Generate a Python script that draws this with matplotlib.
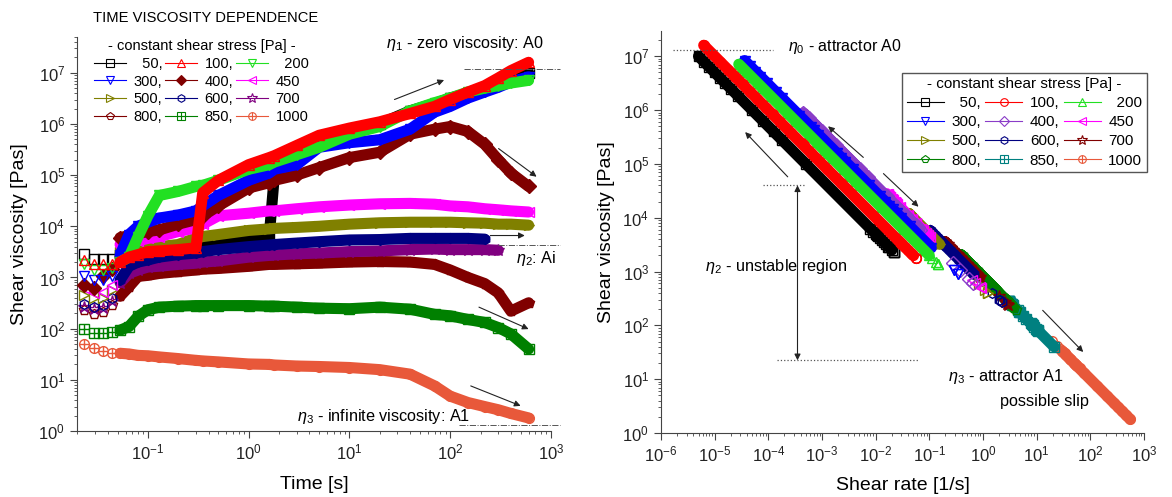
import numpy as np
import matplotlib
matplotlib.use("Agg")
import matplotlib.pyplot as plt
from matplotlib.lines import Line2D
from matplotlib.legend_handler import HandlerTuple
from matplotlib.ticker import LogLocator, NullFormatter

plt.rcParams['font.family'] = ['Liberation Sans', 'DejaVu Sans']
plt.rcParams['mathtext.fontset'] = 'custom'
plt.rcParams['mathtext.rm'] = 'Liberation Sans'
plt.rcParams['mathtext.it'] = 'Liberation Sans:italic'
plt.rcParams['mathtext.bf'] = 'Liberation Sans:bold'

nan = np.nan

# time axis shared by all creep runs [s]
time_s = [0.023, 0.029, 0.036, 0.044, 0.053, 0.065, 0.08, 0.1, 0.13, 0.2, 0.3, 0.35,
          0.5, 1, 1.6, 1.8, 3, 5, 10, 20, 40, 70, 100, 150, 220, 300, 400, 600]

# applied shear stress [Pa]
stress_pa = [50, 100, 200, 300, 400, 450, 500, 600, 700, 800, 850, 1000]

# shear viscosity [Pa s] read per stress level
eta_50 = [2900, 2300, 2300, 2300, 2500, 2800, 3200, 3500, 3800, 4200, 4600, 4800,
          5000, 5500, 6300, 1.0e5, 2.8e5, 4.0e5, 6.3e5, 1.0e6, 1.8e6, 2.5e6, 3.2e6,
          4.0e6, 5.0e6, 6.3e6, 7.9e6, 1.0e7]
eta_100 = [2200, 1800, 1800, 1800, 2000, 2500, 2800, 3200, 3300, 3500, 3800, 4.5e4,
           7.9e4, 1.6e5, 2.2e5, 2.4e5, 3.8e5, 6.0e5, 8.3e5, 1.1e6, 1.6e6, 2.2e6, 3.0e6,
           4.2e6, 5.6e6, 7.9e6, 1.1e7, 1.6e7]
eta_200 = [1800, 1400, 1400, 1500, 2000, 2500, 6300, 1.6e4, 4.0e4, 4.8e4, 6.0e4, 6.3e4,
           7.9e4, 1.3e5, 1.6e5, 1.8e5, 2.5e5, 3.5e5, 6.3e5, 8.9e5, 1.8e6, 2.6e6, 3.2e6,
           4.2e6, 5.0e6, 5.6e6, 6.3e6, 7.1e6]
eta_300 = [1050, 890, 890, 1050, 2750, 6900, 1.0e4, 1.2e4, 1.45e4, 1.66e4, 2.0e4, 2.5e4,
           4.0e4, 7.9e4, 1.1e5, 1.3e5, 1.6e5, 3.5e5, 4.3e5, 4.9e5, 7.9e5, 1.7e6, 2.2e6,
           3.2e6, 4.2e6, 5.2e6, 6.6e6, 8.3e6]
eta_400 = [720, 620, 1050, 1450, 6000, 6600, 7200, 7900, 8500, 1.1e4, 1.35e4, 1.6e4,
           2.5e4, 5.6e4, 7.1e4, 7.9e4, 1.0e5, 1.4e5, 2.2e5, 2.8e5, 6.3e5, 7.9e5, 8.9e5,
           7.1e5, 4.0e5, 2.0e5, 1.1e5, 6.0e4]
eta_450 = [620, 490, 520, 710, 4400, 4800, 5200, 5800, 6300, 7900, 9300, 1.1e4,
           1.6e4, 1.8e4, 2.0e4, 2.0e4, 2.2e4, 2.4e4, 2.6e4, 2.75e4, 2.8e4, 2.7e4, 2.5e4,
           2.4e4, 2.2e4, 2.1e4, 2.0e4, 1.9e4]
eta_500 = [460, 400, 400, 580, 3200, 3500, 3600, 3800, 4000, 4400, 5900, 6300,
           6900, 8300, 8900, 9100, 9500, 1.0e4, 1.1e4, 1.17e4, 1.2e4, 1.2e4, 1.2e4,
           1.17e4, 1.15e4, 1.1e4, 1.1e4, 1.05e4]
eta_600 = [300, 270, 290, 400, 890, 1660, 2000, 2200, 2500, 2800, 3000, 3200,
           3500, 4000, 4300, 4400, 4700, 5000, 5400, 5500, 5800, 5800, 5800,
           5800, 5600, nan, nan, nan]
eta_700 = [270, 240, 250, 350, 790, 1200, 1400, 1600, 1660, 1800, 1900, 2000,
           2100, 2500, 2700, 2750, 2900, 3000, 3200, 3300, 3500, 3600, 3500,
           3500, 3500, 3400, nan, nan]
eta_800 = [230, 190, 210, 290, 430, 660, 1050, 1100, 1200, 1300, 1400, 1450,
           1500, 1650, 1800, 1800, 1850, 1900, 2000, 2050, 2000, 1800, 1400,
           1000, 760, 500, 220, 320]
eta_850 = [100, 81, 83, 87, 93, 110, 174, 234, 263, 275, 282, 282,
           282, 282, 275, 275, 263, 251, 245, 263, 240, 190, 178,
           151, 132, 105, 79, 40]
eta_1000 = [51, 41, 36, 34, 33, 32, 30, 29.5, 28, 26, 24, 23.4,
            22.4, 20.4, 20, 19.5, 18.6, 18.2, 17.4, 15.8, 12.9, 7.6, 4.8,
            3.6, 3.0, 2.6, 2.2, 1.8]

eta_by_stress = [eta_50, eta_100, eta_200, eta_300, eta_400, eta_450,
                 eta_500, eta_600, eta_700, eta_800, eta_850, eta_1000]

legend_labels = ['  50,', '100,', '  200', '300,', '400,', '450',
                 '500,', '600,', '700', '800,', '850,', '1000']

# (marker, colour, filled, cross overlay)
left_style = [('s', '#000000', False, False), ('^', '#ff0000', False, False),
              ('v', '#22e022', False, False), ('v', '#0000ff', False, False),
              ('D', '#800000', True, False), ('<', '#ff00ff', False, False),
              ('>', '#808000', False, False), ('h', '#000080', False, False),
              ('*', '#800080', False, False), ('p', '#800000', False, False),
              ('s', '#008000', False, True), ('o', '#e8583a', False, True)]
right_style = [('s', '#000000', False, False), ('o', '#ff0000', False, False),
               ('^', '#22e022', False, False), ('v', '#0000ff', False, False),
               ('D', '#8a3cc8', False, False), ('<', '#ff00ff', False, False),
               ('>', '#808000', False, False), ('h', '#000080', False, False),
               ('*', '#800000', False, False), ('p', '#008000', False, False),
               ('s', '#008080', False, True), ('o', '#e8583a', False, True)]

draw_order = [0, 11, 10, 9, 8, 7, 6, 5, 4, 3, 2, 1]


def plot_series(ax, x, y, style, z):
    marker, color, filled, cross = style
    x = np.asarray(x, float)
    y = np.asarray(y, float)
    dense = np.asarray(time_s) >= 0.05
    ax.plot(x[dense], y[dense], '-', color=color, lw=8, zorder=z,
            solid_joinstyle='round', solid_capstyle='round')
    ms = 9 if marker == '*' else 7
    ax.plot(x, y, ls='none', marker=marker, ms=ms, mfc=color if filled else 'none',
            mec=color, mew=1, zorder=z + 0.5)
    if cross:
        ax.plot(x, y, ls='none', marker='+', ms=ms, mec=color, mew=1, zorder=z + 0.5)


def legend_handle(style):
    marker, color, filled, cross = style
    ms = 7 if marker == '*' else 5.5
    h = Line2D([], [], color=color, lw=0.8, marker=marker, ms=ms,
               mfc=color if filled else 'none', mec=color, mew=0.8)
    if cross:
        return (h, Line2D([], [], ls='none', marker='+', ms=ms, mec=color, mew=0.8))
    return h


def style_axes(ax):
    for side in ('top', 'right'):
        ax.spines[side].set_visible(False)
    for side in ('left', 'bottom'):
        ax.spines[side].set_color('#444444')
    ax.set_xscale('log')
    ax.set_yscale('log')
    for axis in (ax.xaxis, ax.yaxis):
        axis.set_major_locator(LogLocator(base=10, numticks=20))
        axis.set_minor_locator(LogLocator(base=10, subs=np.arange(2, 10), numticks=100))
        axis.set_minor_formatter(NullFormatter())
    ax.tick_params(which='major', direction='out', length=5, width=0.8,
                   color='#444444', labelsize=12, labelcolor='#222222')
    ax.tick_params(which='minor', direction='out', length=2.5, width=0.6, color='#444444')


def arrow(ax, tail, head, both=False):
    ax.annotate('', xy=head, xytext=tail,
                arrowprops=dict(arrowstyle='<|-|>' if both else '-|>', color='#222222',
                                lw=0.8, mutation_scale=9, shrinkA=0, shrinkB=0))


fig = plt.figure(figsize=(11.72, 4.97), dpi=100)
ax1 = fig.add_axes([0.0657, 0.1328, 0.4044, 0.7928])
ax2 = fig.add_axes([0.564, 0.1288, 0.412, 0.8089])

# ---- left: viscosity vs time ----
for k in draw_order:
    plot_series(ax1, time_s, eta_by_stress[k], left_style[k], 2 + draw_order.index(k))
style_axes(ax1)
ax1.set_xlim(0.0198, 1000)
ax1.set_ylim(1, 5e7)
ax1.set_xlabel('Time [s]', fontsize=14)
ax1.set_ylabel('Shear viscosity [Pas]', fontsize=14)
ax1.xaxis.set_label_coords(0.5, -0.115)
ax1.yaxis.set_label_coords(-0.103, 0.5)

col_order = [0, 3, 6, 9, 1, 4, 7, 10, 2, 5, 8, 11]
leg1 = ax1.legend([legend_handle(left_style[k]) for k in col_order],
                  [legend_labels[k] for k in col_order],
                  handler_map={tuple: HandlerTuple(ndivide=1)},
                  ncol=3, loc='upper left', bbox_to_anchor=(0.015, 1.02), frameon=False,
                  title='- constant shear stress [Pa] -', fontsize=10.5, title_fontsize=10.5,
                  handlelength=2.2, handletextpad=0.5, columnspacing=0.2,
                  labelspacing=0.25, borderpad=0.2)
fig.text(93 / 1172, 1 - 18 / 497, 'TIME VISCOSITY DEPENDENCE', fontsize=10.6, va='center')

ax1.text(23, 3.8e7, r'$\eta_1$ - zero viscosity: A0', fontsize=11.7, va='center')
ax1.text(445, 2300, r'$\eta_2$: Ai', fontsize=11.7, va='center')
ax1.text(3.0, 1.96, r'$\eta_3$ - infinite viscosity: A1', fontsize=11.7, va='center')
for yv, x0 in ((1.2e7, 137), (4270, 295), (1.3, 122)):
    ax1.plot([x0, 1230], [yv, yv], ls='-.', color='#555555', lw=0.7, clip_on=False, zorder=30)
arrow(ax1, (28, 3.0e6), (87, 7.2e6))
arrow(ax1, (302, 3.3e5), (720, 9.3e4))
arrow(ax1, (250, 6600), (550, 6600))
arrow(ax1, (193, 263), (600, 98))
arrow(ax1, (160, 7.6), (500, 3.1))

# ---- right: viscosity vs shear rate (rate = stress / viscosity) ----
for k in draw_order:
    rate = stress_pa[k] / np.asarray(eta_by_stress[k], float)
    plot_series(ax2, rate, eta_by_stress[k], right_style[k], 2 + draw_order.index(k))
style_axes(ax2)
ax2.set_xlim(1e-6, 1e3)
ax2.set_ylim(1, 2.95e7)
ax2.set_xlabel('Shear rate [1/s]', fontsize=14)
ax2.set_ylabel('Shear viscosity [Pas]', fontsize=14)
ax2.xaxis.set_label_coords(0.5, -0.11)
ax2.yaxis.set_label_coords(-0.095, 0.5)

leg2 = ax2.legend([legend_handle(right_style[k]) for k in col_order],
                  [legend_labels[k] for k in col_order],
                  handler_map={tuple: HandlerTuple(ndivide=1)},
                  ncol=3, loc='upper right', bbox_to_anchor=(1.022, 0.915), frameon=True,
                  fancybox=False, edgecolor='#555555', framealpha=1,
                  title='- constant shear stress [Pa] -', fontsize=11, title_fontsize=11,
                  handlelength=2.4, handletextpad=0.5, columnspacing=0.3,
                  labelspacing=0.33, borderpad=0.3)
leg2.get_frame().set_linewidth(1.0)
leg2.set_zorder(50)

ax2.text(2.3e-4, 1.5e7, r'$\eta_0$ - attractor A0', fontsize=11.5, va='center')
ax2.text(6.6e-6, 1230, r'$\eta_2$ - unstable region', fontsize=11.7, va='center', zorder=40)
ax2.text(0.226, 11, r'$\eta_3$ - attractor A1', fontsize=11.7, va='center')
ax2.text(2.07, 3.8, 'possible slip', fontsize=11.7, va='center')
ax2.plot([1.7e-6, 1.2e-4], [1.3e7, 1.3e7], ls=':', color='#555555', lw=0.9, zorder=30)
ax2.plot([8.1e-5, 5.1e-4], [4e4, 4e4], ls=':', color='#555555', lw=0.9, zorder=30)
ax2.plot([1.45e-4, 0.063], [22.4, 22.4], ls=':', color='#555555', lw=0.9, zorder=30)
arrow(ax2, (3.5e-4, 4e4), (3.5e-4, 22.4), both=True)
arrow(ax2, (2.3e-4, 5.75e4), (3.7e-5, 3.9e5))
arrow(ax2, (5.9e-3, 1.32e5), (1.3e-3, 5.0e5))
arrow(ax2, (1.4e-2, 6.6e4), (6.3e-2, 1.6e4))
arrow(ax2, (13, 190), (74, 32))

fig.savefig('out.png', dpi=100)
